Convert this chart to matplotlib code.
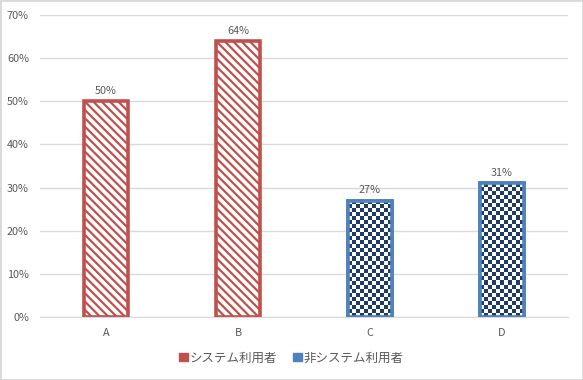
import matplotlib
matplotlib.use("Agg")
import matplotlib.pyplot as plt
import numpy as np
from matplotlib.patches import Patch, Rectangle

categories = ["A", "B", "C", "D"]
values = [0.50, 0.64, 0.27, 0.31]
groups = ["sys", "sys", "non", "non"]
labels = {"sys": "システム利用者", "non": "非システム利用者"}

RED = "#C0504D"
BLUE = "#4F81BD"
NAVY = "#1F3B66"
GRAY = "#595959"

plt.rcParams['font.family'] = ['Noto Sans CJK JP', 'DejaVu Sans']
plt.rcParams['hatch.linewidth'] = 1.6

fig = plt.figure(figsize=(5.83, 3.8), dpi=100)
fig.patches.append(Rectangle((0, 0), 1, 1, transform=fig.transFigure,
                             fill=False, edgecolor="#D9D9D9", lw=2))
ax = fig.add_axes([0.0686, 0.1658, 0.9057, 0.7947])

x = np.arange(len(categories))
bars = ax.bar(x, values, width=0.33, color="white", zorder=2)
for b, g in zip(bars, groups):
    if g == "sys":
        b.set_hatch("\\\\\\\\")
        b.set_edgecolor(RED)
        b.set_linewidth(2.6)
    else:
        b.set_edgecolor(BLUE)
        b.set_linewidth(2.6)

ax.set_xlim(-0.5, len(categories) - 0.5)
ax.set_ylim(0, 0.70)

# checkerboard fill for the blue bars, clipped to the bar shape
fig.canvas.draw()
for b, g in zip(bars, groups):
    if g != "non":
        continue
    bb = b.get_window_extent()
    nx = max(1, int(round(bb.width / 4)))
    ny = max(1, int(round(bb.height / 4)))
    chk = (np.indices((ny, nx)).sum(axis=0) % 2).astype(float)
    im = ax.imshow(chk, cmap=matplotlib.colors.ListedColormap(["white", NAVY]),
                   extent=(b.get_x(), b.get_x() + b.get_width(), 0, b.get_height()),
                   aspect="auto", interpolation="nearest", zorder=2.5, origin="lower")
    im.set_clip_path(b)
    edge = Rectangle((b.get_x(), 0), b.get_width(), b.get_height(), fill=False,
                     edgecolor=BLUE, lw=2.6, zorder=3)
    ax.add_patch(edge)

ax.set_xlim(-0.5, len(categories) - 0.5)
ax.set_ylim(0, 0.70)

for xi, v in zip(x, values):
    ax.text(xi, v + 0.012, f"{v:.0%}", ha="center", va="bottom",
            fontsize=7.8, color=GRAY)

ax.set_yticks(np.arange(0, 0.71, 0.1))
ax.set_yticklabels([f"{t:.0%}" for t in np.arange(0, 0.71, 0.1)])
ax.set_xticks(x)
ax.set_xticklabels(categories)
ax.tick_params(axis="both", length=0, labelsize=7.8, colors=GRAY)
ax.tick_params(axis="y", pad=8)
ax.tick_params(axis="x", pad=8)
ax.grid(axis="y", color="#D9D9D9", lw=1, zorder=0)
for s in ["top", "right", "left"]:
    ax.spines[s].set_visible(False)
ax.spines["bottom"].set_color("#D9D9D9")

handles = [Patch(facecolor=RED, edgecolor=RED, label=labels["sys"]),
           Patch(facecolor=BLUE, edgecolor=BLUE, label=labels["non"])]
leg = fig.legend(handles=handles, loc="center", bbox_to_anchor=(0.5, 0.058), ncol=2,
                 frameon=False, fontsize=9, handlelength=0.7, handleheight=0.7,
                 handletextpad=0.15, columnspacing=1.3)
for t in leg.get_texts():
    t.set_color(GRAY)

fig.savefig("out.png", dpi=100)
